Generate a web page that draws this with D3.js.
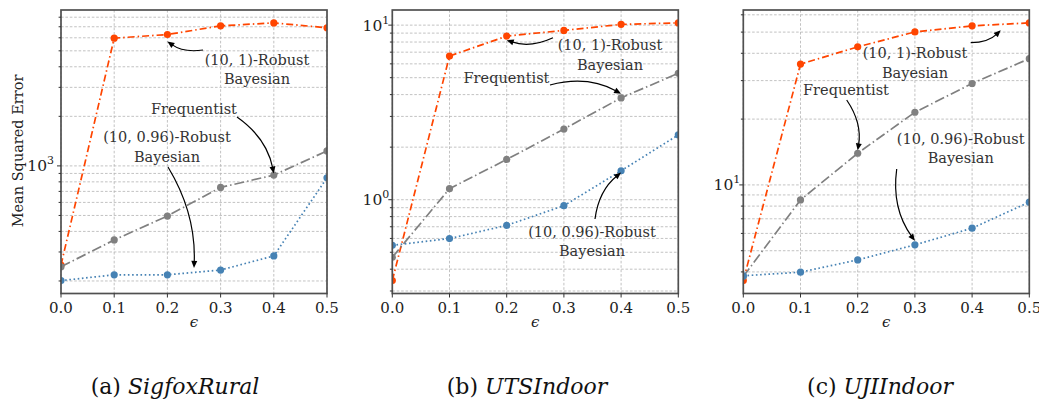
<!DOCTYPE html>
<html><head><meta charset="utf-8">
<script src="https://cdn.jsdelivr.net/npm/d3@7"></script>
<style>body{margin:0;background:#fff}svg{display:block}</style>
</head><body>
<svg id="fig" width="1039" height="401"></svg>
<script>
// ---- data ----------------------------------------------------------
const eps = [0, 0.1, 0.2, 0.3, 0.4, 0.5];
const xTickLabels = ["0.0", "0.1", "0.2", "0.3", "0.4", "0.5"];
const datasets = ["SigfoxRural", "UTSIndoor", "UJIIndoor"];
const panelLetters = ["(a)", "(b)", "(c)"];

// Mean squared error, SigfoxRural
const sigfoxRobust1   = [250, 5970, 6280, 7090, 7390, 6900];
const sigfoxFreq      = [244, 355, 496, 740, 879, 1233];
const sigfoxRobust096 = [201, 218, 218, 233, 284, 846];
// Mean squared error, UTSIndoor
const utsRobust1   = [0.344, 6.65, 8.65, 9.33, 10.1, 10.3];
const utsFreq      = [0.468, 1.156, 1.70, 2.54, 3.83, 5.30];
const utsRobust096 = [0.548, 0.599, 0.713, 0.924, 1.465, 2.35];
// Mean squared error, UJIIndoor
const ujiRobust1   = [3.65, 35.7, 42.8, 50.1, 53.4, 55.1];
const ujiFreq      = [3.81, 8.54, 13.96, 21.5, 29.1, 37.8];
const ujiRobust096 = [3.84, 3.99, 4.54, 5.32, 6.34, 8.34];

const seriesValues = [
  [sigfoxRobust1, sigfoxFreq, sigfoxRobust096],
  [utsRobust1, utsFreq, utsRobust096],
  [ujiRobust1, ujiFreq, ujiRobust096]
];

// ---- styles --------------------------------------------------------
const seriesStyle = [
  {color: "#ff4500", dash: "7,3,1.5,3"},   // (10,1)-Robust Bayesian
  {color: "#808080", dash: "10,3,1.5,3"},  // Frequentist
  {color: "#4682b4", dash: "1.6,2.6"}      // (10,0.96)-Robust Bayesian
];
const FONT = "DejaVu Serif";
const TOP = 10, BOTTOM = 293.5;
const frames = [
  {left: 61,    right: 327,    labelPad: 7, captionX: 175},
  {left: 392.3, right: 678.3,  labelPad: 3, captionX: 527},
  {left: 743.3, right: 1029.3, labelPad: 3, captionX: 880}
];
// annotation placement: text centre and arrow tail relative to the axes
// corner, arrow tip in data units, arc bend of the connector
const notes = [
  [
    {lines: ["(10, 1)-Robust", "Bayesian"], text: [196, 59], tail: [142, 40], tip: [0.2, 5700], rad: 0.2},
    {lines: ["Frequentist"], text: [133, 98], tail: [176, 107], tip: [0.4, 900], rad: 0.2},
    {lines: ["(10, 0.96)-Robust", "Bayesian"], text: [106, 136.5], tail: [107, 157], tip: [0.25, 240], rad: 0.15}
  ],
  [
    {lines: ["(10, 1)-Robust", "Bayesian"], text: [217.7, 44.5], tail: [160.7, 27.7], tip: [0.2, 8.2], rad: 0.2},
    {lines: ["Frequentist"], text: [114.2, 67], tail: [157.7, 75], tip: [0.4, 4.05], rad: 0.2},
    {lines: ["(10, 0.96)-Robust", "Bayesian"], text: [199.7, 231], tail: [202.7, 209], tip: [0.4, 1.43], rad: 0.2}
  ],
  [
    {lines: ["(10, 1)-Robust", "Bayesian"], text: [171.7, 52.5], tail: [227.4, 32.7], tip: [0.45, 51], rad: -0.2},
    {lines: ["Frequentist"], text: [102.7, 79], tail: [103.4, 90], tip: [0.2, 14.4], rad: 0.2},
    {lines: ["(10, 0.96)-Robust", "Bayesian"], text: [217.4, 138], tail: [153.4, 159], tip: [0.3, 5.55], rad: -0.2}
  ]
];

const svg = d3.select("#fig");

frames.forEach((f, pi) => {
  const vals = seriesValues[pi];
  const all = vals.flat();
  // log axis with a 5% margin in decades on each side
  const lo = Math.log10(d3.min(all)), hi = Math.log10(d3.max(all));
  const pad = (hi - lo) * 0.05;
  const x = d3.scaleLinear().domain([0, 0.5]).range([f.left, f.right]);
  const y = d3.scaleLog().domain([10 ** (lo - pad), 10 ** (hi + pad)]).range([BOTTOM, TOP]);
  const g = svg.append("g");
  const clipId = "clip" + pi;
  svg.append("clipPath").attr("id", clipId).append("rect")
    .attr("x", f.left).attr("y", TOP).attr("width", f.right - f.left).attr("height", BOTTOM - TOP);

  // y grid: every 1..9 x 10^k inside the domain
  const [d0, d1] = y.domain();
  const minorVals = [], majorVals = [];
  for (let k = Math.floor(Math.log10(d0)); k <= Math.ceil(Math.log10(d1)); k++) {
    for (let m = 1; m <= 9; m++) {
      const v = m * 10 ** k;
      if (v >= d0 && v <= d1) { minorVals.push(v); if (m === 1) majorVals.push(v); }
    }
  }
  const grid = g.append("g").attr("stroke", "#b3b3b3").attr("stroke-width", 0.8)
    .attr("stroke-dasharray", "2.6,1.8").attr("fill", "none");
  grid.selectAll("line.h").data(minorVals).join("line")
    .attr("x1", f.left).attr("x2", f.right).attr("y1", d => y(d)).attr("y2", d => y(d));
  grid.selectAll("line.v").data(eps).join("line")
    .attr("x1", d => x(d)).attr("x2", d => x(d)).attr("y1", TOP).attr("y2", BOTTOM);

  // series
  const plot = g.append("g").attr("clip-path", `url(#${clipId})`);
  vals.forEach((arr, si) => {
    const st = seriesStyle[si];
    const pts = eps.map((e, i) => [e, arr[i]]);
    plot.append("path")
      .attr("d", d3.line().x(d => x(d[0])).y(d => y(d[1]))(pts))
      .attr("fill", "none").attr("stroke", st.color).attr("stroke-width", 1.7)
      .attr("stroke-dasharray", st.dash);
    plot.selectAll(null).data(pts).join("circle")
      .attr("cx", d => x(d[0])).attr("cy", d => y(d[1])).attr("r", 3.6)
      .attr("fill", st.color);
  });

  // spines
  g.append("rect").attr("x", f.left).attr("y", TOP)
    .attr("width", f.right - f.left).attr("height", BOTTOM - TOP)
    .attr("fill", "none").attr("stroke", "#505050").attr("stroke-width", 1.7);

  // x ticks
  const tk = g.append("g").attr("stroke", "#333").attr("stroke-width", 1);
  tk.selectAll("line.x").data(eps).join("line")
    .attr("x1", d => x(d)).attr("x2", d => x(d)).attr("y1", BOTTOM).attr("y2", BOTTOM + 4);
  g.selectAll("text.xt").data(eps).join("text")
    .attr("x", d => x(d)).attr("y", BOTTOM + 19.5).attr("text-anchor", "middle")
    .attr("font-family", FONT).attr("font-size", 15).attr("fill", "#222")
    .text((d, i) => xTickLabels[i]);

  // y ticks
  tk.selectAll("line.y").data(minorVals).join("line")
    .attr("x1", d => f.left - (majorVals.includes(d) ? 4 : 2.4)).attr("x2", f.left)
    .attr("y1", d => y(d)).attr("y2", d => y(d));
  majorVals.forEach(v => {
    const k = Math.round(Math.log10(v));
    const t = g.append("text").attr("x", f.left - f.labelPad).attr("y", y(v) + 5.5)
      .attr("text-anchor", "end").attr("font-family", FONT).attr("font-size", 15.5)
      .attr("fill", "#222");
    t.append("tspan").text("10");
    t.append("tspan").attr("font-size", 11).attr("dy", -7).text(String(k));
  });

  // x label
  g.append("text").attr("x", (f.left + f.right) / 2).attr("y", 327)
    .attr("text-anchor", "middle").attr("font-family", FONT)
    .attr("font-style", "italic").attr("font-size", 15).attr("fill", "#222").text("\u03f5");

  // caption
  const cap = svg.append("text").attr("x", f.captionX).attr("y", 394)
    .attr("text-anchor", "middle").attr("font-family", FONT).attr("font-size", 22).attr("fill", "#111");
  cap.append("tspan").text(panelLetters[pi] + " ");
  cap.append("tspan").attr("font-style", "italic").text(datasets[pi]);

  // annotations
  notes[pi].forEach(n => {
    const tx = f.left + n.text[0], ty = TOP + n.text[1];
    const t = g.append("text").attr("text-anchor", "middle").attr("font-family", FONT)
      .attr("font-size", 14.5).attr("fill", "#333");
    const nL = n.lines.length;
    n.lines.forEach((s, li) => {
      t.append("tspan").attr("x", tx).attr("y", ty + 5.5 + (li - (nL - 1) / 2) * 19.5).text(s);
    });
    const x0 = f.left + n.tail[0], y0 = TOP + n.tail[1];
    const x1 = x(n.tip[0]), y1 = y(n.tip[1]);
    const dx = x1 - x0, dy = y1 - y0;
    const cx = (x0 + x1) / 2 + n.rad * dy, cy = (y0 + y1) / 2 - n.rad * dx;
    const ang = Math.atan2(y1 - cy, x1 - cx);
    const hl = 7, hw = 3;
    const bx = x1 - hl * Math.cos(ang), by = y1 - hl * Math.sin(ang);
    g.append("path").attr("d", `M${x0},${y0}Q${cx},${cy} ${bx + 1.5 * Math.cos(ang)},${by + 1.5 * Math.sin(ang)}`)
      .attr("fill", "none").attr("stroke", "#000").attr("stroke-width", 1.2);
    const px = -Math.sin(ang), py = Math.cos(ang);
    g.append("path")
      .attr("d", `M${x1},${y1}L${bx + hw * px},${by + hw * py}L${bx - hw * px},${by - hw * py}Z`)
      .attr("fill", "#000");
  });
});

// shared y label
svg.append("text").attr("transform", "translate(23,151) rotate(-90)")
  .attr("text-anchor", "middle").attr("font-family", FONT).attr("font-size", 14.5)
  .attr("fill", "#222").text("Mean Squared Error");
</script>
</body></html>
